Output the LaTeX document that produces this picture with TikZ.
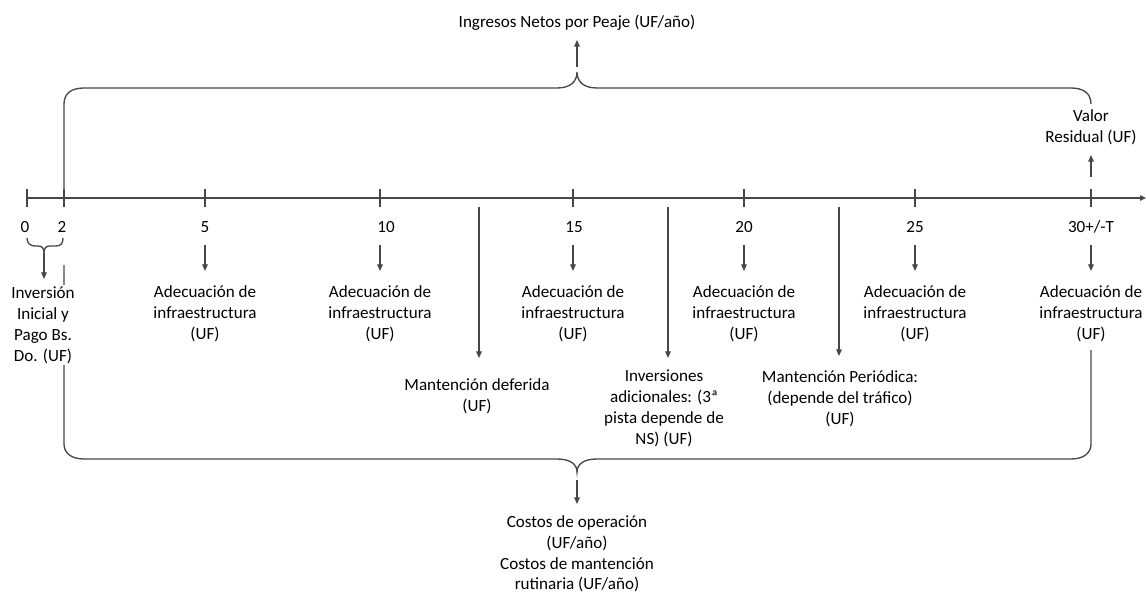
\documentclass[tikz,border=0pt]{standalone}
\usepackage{fontspec}
\setmainfont{Carlito}
\usetikzlibrary{arrows.meta}
\begin{document}
\begin{tikzpicture}[x=0.75pt,y=-0.75pt,
  ln/.style={draw=black!72, line width=1pt},
  arr/.style={ln, -{Triangle[length=5pt,width=4.2pt]}},
  txt/.style={font=\fontsize{12.8}{15.8}\selectfont, align=center, inner sep=1pt, text=black},
  num/.style={font=\fontsize{12.8}{15.8}\selectfont, inner sep=0pt, text=black}]
\useasboundingbox (0,0) rectangle (1146,595);

% timeline
\coordinate (tl0) at (27,198);
\coordinate (tlend) at (1146,198);
\draw[ln, -{Triangle[length=4.5pt,width=4pt]}] (tl0) -- (tlend);
\foreach \x in {27,64,205,380,573,744,915,1091}
  \draw[ln] (\x,189) -- (\x,207);

% top brace
\draw[ln] (64,190) -- (64,104) .. controls (64,93) and (72,88) .. (84,88) -- (557,88)
  .. controls (570,88) and (577,82) .. (577,72) .. controls (577,82) and (584,88) .. (597,88)
  -- (1071,88) .. controls (1083,88) and (1091,93) .. (1091,104);

% bottom brace
\draw[ln] (64,265) -- (64,444) .. controls (64,452) and (70,459) .. (84,459) -- (557,459)
  .. controls (570,459) and (577,464) .. (577,472) .. controls (577,464) and (584,459) .. (597,459)
  -- (1071,459) .. controls (1085,459) and (1091,452) .. (1091,444) -- (1091,350);

% small brace 0-2
\draw[ln] (27,238) .. controls (27,243) and (30,246) .. (35,246) -- (38,246)
  .. controls (42,246) and (44,248) .. (44,253) .. controls (44,248) and (46,246) .. (50,246)
  -- (56,246) .. controls (61,246) and (63,243) .. (63,238);

% numbers
\node[num] (n0) at (25,227) {0};
\node[num] (n2) at (62,227) {2};
\node[num] (n5) at (205,227) {5};
\node[num] (n10) at (386,227) {10};
\node[num] (n15) at (574,227) {15};
\node[num] (n20) at (744,227) {20};
\node[num] (n25) at (915,227) {25};
\node[num] (n30) at (1091,227) {30+/-T};

% top texts
\node[txt] (ing) at (577,23) {Ingresos Netos por Peaje (UF/año)};
\coordinate (ingS) at (577,67);
\coordinate (ingE) at (577,40);
\draw[arr] (ingS) -- (ingE);

\node[txt] (vr) at (1091,127) {Valor\\Residual (UF)};
\coordinate (vrS) at (1091,177);
\coordinate (vrE) at (1091,155);
\draw[arr] (vrS) -- (vrE);

% initial investment
\node[txt, fill=white] (inv) at (43,325) {Inversión\\Inicial y\\Pago Bs.\\Do. (UF)};
\coordinate (invS) at (44,253);
\coordinate (invE) at (44,279);
\draw[arr] (invS) -- (invE);

% adecuacion blocks
\foreach \x/\nm in {205/a5,380/a10,573/a15,744/a20,915/a25,1091/a30}{
  \node[txt] (\nm) at (\x,314) {Adecuación de\\infraestructura\\(UF)};
  \coordinate (\nm s) at (\x,245);
  \coordinate (\nm e) at (\x,271);
  \draw[arr] (\nm s) -- (\nm e);
}

% long arrows
\node[txt] (md) at (477,396) {Mantención deferida\\(UF)};
\coordinate (mdS) at (479,207);
\coordinate (mdE) at (479,358);
\draw[arr] (mdS) -- (mdE);

\node[txt] (ia) at (664,408) {Inversiones\\adicionales: (3ª\\pista depende de\\NS) (UF)};
\coordinate (iaS) at (668,207);
\coordinate (iaE) at (668,358);
\draw[arr] (iaS) -- (iaE);

\node[txt] (mp) at (840,399) {Mantención Periódica:\\(depende del tráfico)\\(UF)};
\coordinate (mpS) at (839,207);
\coordinate (mpE) at (839,356);
\draw[arr] (mpS) -- (mpE);

% bottom
\node[txt, font=\fontsize{12.8}{15.5}\selectfont] (co) at (577,554) {Costos de operación\\(UF/año)\\Costos de mantención\\rutinaria (UF/año)};
\coordinate (coS) at (577,480);
\coordinate (coE) at (577,504);
\draw[arr] (coS) -- (coE);
\end{tikzpicture}
\end{document}
